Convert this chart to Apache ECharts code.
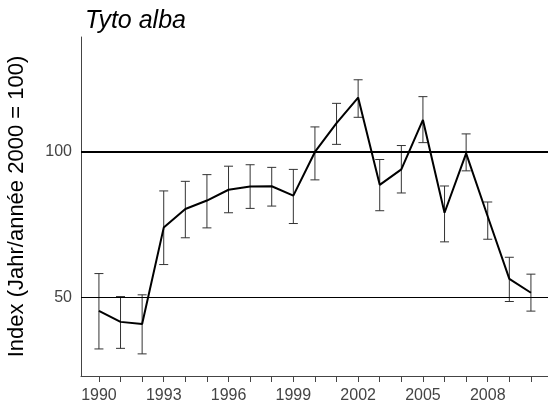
<!DOCTYPE html>
<html>
<head>
<meta charset="utf-8">
<script src="https://cdn.jsdelivr.net/npm/echarts@6/dist/echarts.min.js"></script>
<style>html,body{margin:0;padding:0;background:#fff}#c{width:548px;height:407px}</style>
</head>
<body>
<div id="c"></div>
<script>
var years = [1990,1991,1992,1993,1994,1995,1996,1997,1998,1999,2000,2001,2002,2003,2004,2005,2006,2007,2008,2009,2010];
var index = [45.4,41.6,40.9,74.0,80.4,83.3,87.0,88.1,88.2,85.0,100,109.9,118.7,88.7,94.0,111.0,79.1,99.5,77.8,56.4,51.6];
var upper = [58.2,50.3,50.9,86.6,89.9,92.2,95.1,95.6,94.7,94.0,108.6,116.7,124.8,97.4,102.2,119.0,88.3,106.2,82.8,63.8,58.0];
var lower = [32.3,32.5,30.6,61.3,70.5,73.9,79.1,80.6,81.4,75.4,90.4,102.6,111.9,79.8,85.9,103.2,69.1,93.5,70.0,48.6,45.3];
var xTickLabels = [1990,1993,1996,1999,2002,2005,2008];
var yTickLabels = [50,100];
var refLines = [100,50];

var chart = echarts.init(document.getElementById('c'));
var font = 'Liberation Sans, Arial, sans-serif';
chart.setOption({
  animation: false,
  title: {text: 'Tyto alba', left: 80, top: 4,
    textStyle: {fontFamily: font, fontStyle: 'italic', fontWeight: 'normal', fontSize: 25, color: '#000'}},
  grid: {left: 81, right: 0, top: 37, bottom: 31, containLabel: false, outerBoundsMode: 'none'},
  xAxis: {type: 'value', min: 1989.17, max: 2010.79,
    axisLine: {show: true, lineStyle: {color: '#444', width: 1}},
    axisTick: {show: true, length: 6, customValues: years, lineStyle: {color: '#444'}},
    axisLabel: {customValues: xTickLabels, fontFamily: font, fontSize: 16, color: '#444', margin: 12,
      formatter: function (v) { return String(Math.round(v)); }},
    splitLine: {show: false}},
  yAxis: {type: 'value', min: 23, max: 139.5,
    name: 'Index (Jahr/année 2000 = 100)', nameLocation: 'middle', nameGap: 53,
    nameTextStyle: {fontFamily: font, fontSize: 22, color: '#000'},
    axisLine: {show: true, lineStyle: {color: '#444', width: 1}},
    axisTick: {show: false},
    axisLabel: {customValues: yTickLabels, fontFamily: font, fontSize: 16, color: '#444', margin: 9,
      formatter: function (v) { return String(Math.round(v)); }},
    splitLine: {show: false}},
  series: [
    {type: 'line', data: [], silent: true,
      markLine: {silent: true, symbol: 'none', label: {show: false},
        data: [
          {yAxis: refLines[0], lineStyle: {color: '#000', width: 2, type: 'solid'}},
          {yAxis: refLines[1], lineStyle: {color: '#000', width: 1, type: 'solid'}}
        ]}},
    {type: 'custom', silent: true,
      data: years.map(function (y, i) { return [y, lower[i], upper[i]]; }),
      renderItem: function (params, api) {
        var x = api.value(0);
        var lo = api.coord([x, api.value(1)]);
        var hi = api.coord([x, api.value(2)]);
        var w = 4.5;
        var st = {stroke: '#333', lineWidth: 1};
        return {type: 'group', children: [
          {type: 'line', shape: {x1: lo[0], y1: lo[1], x2: hi[0], y2: hi[1]}, style: st},
          {type: 'line', shape: {x1: lo[0]-w, y1: lo[1], x2: lo[0]+w, y2: lo[1]}, style: st},
          {type: 'line', shape: {x1: hi[0]-w, y1: hi[1], x2: hi[0]+w, y2: hi[1]}, style: st}
        ]};
      }, z: 2},
    {type: 'line', data: years.map(function (y, i) { return [y, index[i]]; }),
      symbol: 'none', lineStyle: {color: '#000', width: 2}, z: 3}
  ]
});
</script>
</body>
</html>
